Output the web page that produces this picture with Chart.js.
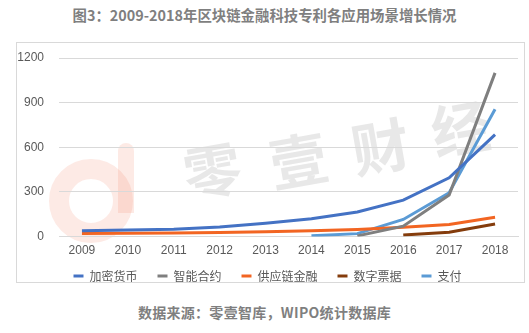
<!DOCTYPE html>
<html>
<head>
<meta charset="utf-8">
<script src="https://cdn.jsdelivr.net/npm/chart.js@4"></script>
<style>
  body { margin: 0; background: #fff; width: 529px; height: 333px; position: relative; overflow: hidden; font-family: "Noto Sans CJK SC", "Liberation Sans", sans-serif; }
  #title { position: absolute; top: 5px; left: 0; width: 529px; text-align: center; font-size: 14.4px; line-height: 20px; font-weight: bold; color: #7f7f7f; }
  #box { position: absolute; left: 16px; top: 42px; width: 507px; height: 239px; border: 1px solid #d9d9d9; overflow: hidden; }
  .wm { position: absolute; font-size: 58px; line-height: 1; color: rgba(150,150,150,0.22); font-weight: bold; transform: rotate(-10deg); }
  #logo { position: absolute; left: 32px; top: 116px; width: 84px; height: 84px; box-sizing: border-box; border-radius: 50%; border: 20px solid rgba(245,140,110,0.18); }
  #stem { position: absolute; left: 101px; top: 100px; width: 16px; height: 70px; border-radius: 8px 8px 0 0; background: rgba(245,140,110,0.18); }
  #source { position: absolute; top: 302px; left: 0; width: 529px; text-align: center; font-size: 14px; line-height: 20px; font-weight: bold; color: #7f7f7f; letter-spacing: 0.3px; }
  canvas { position: absolute; left: 0; top: 0; }
</style>
</head>
<body>
<div id="title">图3：2009-2018年区块链金融科技专利各应用场景增长情况</div>
<div id="box">
  <div id="logo"></div>
  <div id="stem"></div>
  <div class="wm" style="left:166px;top:96px">零</div>
  <div class="wm" style="left:252px;top:86px">壹</div>
  <div class="wm" style="left:334px;top:72px">财</div>
  <div class="wm" style="left:414px;top:54px">经</div>
  <canvas id="c" width="507" height="239"></canvas>
</div>
<div id="source">数据来源：零壹智库，WIPO统计数据库</div>
<script>
const years = ['2009','2010','2011','2012','2013','2014','2015','2016','2017','2018'];
const crypto = [40, 45, 50, 65, 90, 120, 165, 245, 395, 685];
const smartContract = [null, null, null, null, null, null, 5, 70, 280, 1100];
const supplyChain = [20, 22, 25, 28, 33, 40, 48, 62, 82, 130];
const digitalBill = [null, null, null, null, null, null, null, 10, 30, 85];
const payment = [null, null, null, null, null, 5, 20, 115, 295, 855];
const yTicks = [0, 300, 600, 900, 1200];

const mk = (label, data, color) => ({
  label, data, borderColor: color, backgroundColor: color,
  borderWidth: 3, pointRadius: 0, fill: false, tension: 0,
  pointStyle: 'line'
});

// pull the legend row up a bit, so it sits close under the year labels
const legendShift = {
  id: 'legendShift',
  afterLayout(chart) { if (chart.legend) chart.legend.top -= 15; }
};

new Chart(document.getElementById('c'), {
  type: 'line',
  plugins: [legendShift],
  data: {
    labels: years,
    datasets: [
      mk('加密货币', crypto, '#4472C4'),
      mk('智能合约', smartContract, '#7f7f7f'),
      mk('供应链金融', supplyChain, '#F26522'),
      mk('数字票据', digitalBill, '#843C0C'),
      mk('支付', payment, '#5B9BD5')
    ]
  },
  options: {
    responsive: false,
    animation: false,
    layout: { padding: { top: 15, right: 6, left: 0, bottom: 0 } },
    scales: {
      x: {
        offset: true,
        grid: { display: false, drawTicks: false },
        border: { color: '#d9d9d9' },
        ticks: { color: '#595959', font: { size: 12, family: 'Liberation Sans' }, padding: 7 }
      },
      y: {
        min: 0, max: 1200,
        afterBuildTicks: axis => { axis.ticks = yTicks.map(v => ({ value: v })); },
        // fixed label column; tick padding should not push the plot down
        afterFit: axis => { axis.width = 42; axis.paddingTop = 0; axis.paddingBottom = 0; },
        grid: { color: '#d9d9d9', drawTicks: false },
        border: { display: false },
        ticks: { color: '#595959', font: { size: 12, family: 'Liberation Sans' }, padding: 15, callback: v => String(v) }
      }
    },
    plugins: {
      legend: {
        position: 'bottom',
        maxHeight: 17,
        labels: {
          usePointStyle: true, pointStyleWidth: 10, boxHeight: 3, padding: 20,
          color: '#595959', font: { size: 12, family: 'Noto Sans CJK SC' }
        }
      },
      tooltip: { enabled: false }
    }
  }
});
</script>
</body>
</html>
